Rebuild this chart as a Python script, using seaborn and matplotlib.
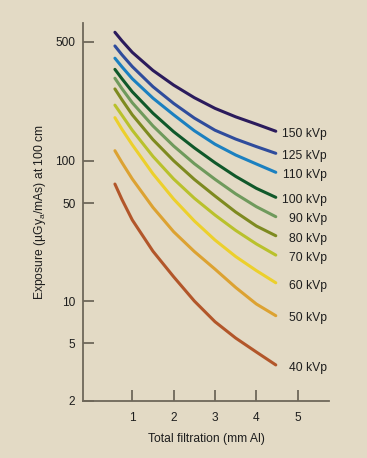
import numpy as np
import pandas as pd
import matplotlib
matplotlib.use("Agg")
import matplotlib.pyplot as plt
import seaborn as sns

# ---- data ----
kvp_labels = ["150 kVp", "125 kVp", "110 kVp", "100 kVp", "90 kVp",
              "80 kVp", "70 kVp", "60 kVp", "50 kVp", "40 kVp"]
filtration = [0.58, 0.75, 1.0, 1.5, 2.0, 2.5, 3.0, 3.5, 4.0, 4.47]   # mm Al
exp_150 = [568, 506, 433, 339, 278, 234.5, 203, 181, 164, 149]
exp_125 = [472, 419, 357, 272, 217, 178, 151, 134, 121, 110.5]
exp_110 = [400, 356, 303, 233, 186, 150, 125, 108, 94.8, 82.8]
exp_100 = [344, 303, 254, 190, 148, 119, 96.8, 77.5, 63.8, 55.1]
exp_90 = [305, 265, 219, 160, 122, 95.3, 73.9, 58.3, 47.3, 40.1]
exp_80 = [264, 228, 186, 133, 100, 73.8, 56.3, 43.3, 34.4, 29.3]
exp_70 = [212, 185, 151, 106, 74.3, 54.3, 41.2, 32.0, 25.6, 21.3]
exp_60 = [179, 153, 124, 80.8, 53.6, 37.4, 27.3, 20.8, 16.5, 13.5]
exp_50 = [114.5, 97.0, 74.3, 46.7, 31.3, 22.6, 16.9, 12.5, 9.52, 7.86]
exp_40 = [68.4, 53.2, 38.0, 22.7, 14.9, 10.0, 7.12, 5.45, 4.35, 3.54]
x_ticks = [1, 2, 3, 4, 5]
y_ticks = [2, 5, 10, 50, 100, 500]

series = [exp_150, exp_125, exp_110, exp_100, exp_90,
          exp_80, exp_70, exp_60, exp_50, exp_40]
colors = ["#2b1b5c", "#2f4c9c", "#1b80c0", "#10582a", "#6f9a5c",
          "#7e8a20", "#b9c12c", "#ecd02c", "#dca232", "#b2562a"]

rows = []
for lab, vals in zip(kvp_labels, series):
    for xv, yv in zip(filtration, vals):
        rows.append({"filtration": xv, "exposure": yv, "kVp": lab})
df = pd.DataFrame(rows)

# ---- style ----
sns.set_theme(style="ticks")
plt.rcParams["font.family"] = ["Liberation Sans", "DejaVu Sans"]
plt.rcParams["mathtext.default"] = "regular"
bg = "#e3dac5"
axcol = "#6e675a"

fig = plt.figure(figsize=(3.67, 4.58), dpi=100, facecolor=bg)
ax = fig.add_axes([83 / 367, 1 - 400.7 / 458, (329 - 83) / 367, (400.7 - 23) / 458])
ax.set_facecolor(bg)

# The printed axis is a hand-spaced log axis: map tick values to their drawn heights
tick_logs = np.log10(np.array(y_ticks, dtype=float))
tick_h = np.array([0.0, 57.4, 99.7, 197.4, 240.0, 359.0])

def fwd(v):
    lv = np.log10(np.clip(np.asarray(v, dtype=float), 1e-6, None))
    out = np.interp(lv, tick_logs, tick_h)
    lo = (tick_h[1] - tick_h[0]) / (tick_logs[1] - tick_logs[0])
    hi = (tick_h[-1] - tick_h[-2]) / (tick_logs[-1] - tick_logs[-2])
    out = np.where(lv < tick_logs[0], tick_h[0] + (lv - tick_logs[0]) * lo, out)
    out = np.where(lv > tick_logs[-1], tick_h[-1] + (lv - tick_logs[-1]) * hi, out)
    return out

def inv(h):
    h = np.asarray(h, dtype=float)
    lv = np.interp(h, tick_h, tick_logs)
    lo = (tick_logs[1] - tick_logs[0]) / (tick_h[1] - tick_h[0])
    hi = (tick_logs[-1] - tick_logs[-2]) / (tick_h[-1] - tick_h[-2])
    lv = np.where(h < tick_h[0], tick_logs[0] + (h - tick_h[0]) * lo, lv)
    lv = np.where(h > tick_h[-1], tick_logs[-1] + (h - tick_h[-1]) * hi, lv)
    return 10 ** lv

ax.set_yscale("function", functions=(fwd, inv))

sns.lineplot(data=df, x="filtration", y="exposure", hue="kVp",
             palette=dict(zip(kvp_labels, colors)), hue_order=kvp_labels,
             linewidth=2.2, legend=False, ax=ax, solid_capstyle="round",
             solid_joinstyle="round")

ax.set_xlim(-0.192, 5.757)
ax.set_ylim(2, float(inv(377.7)))
ax.set_xticks(x_ticks)
ax.set_xticklabels([str(t) for t in x_ticks])
ax.set_yticks(y_ticks)
ax.set_yticklabels([str(t) for t in y_ticks])
ax.yaxis.set_minor_locator(matplotlib.ticker.NullLocator())

for s in ["top", "right"]:
    ax.spines[s].set_visible(False)
for s in ["left", "bottom"]:
    ax.spines[s].set_color(axcol)
    ax.spines[s].set_linewidth(1.3)
ax.tick_params(axis="both", direction="in", length=8, width=1.3, color=axcol,
               labelsize=8.6, labelcolor="#1e1e1e")
ax.tick_params(axis="y", pad=5.5)
ax.tick_params(axis="x", pad=8)

ax.set_xlabel("Total filtration (mm Al)", fontsize=8.7, color="#1e1e1e")
ax.set_ylabel("Exposure (µGy$_{a}$/mAs) at 100 cm", fontsize=8.7, color="#1e1e1e")
ax.xaxis.set_label_coords(0.5, -0.085)
ax.yaxis.set_label_coords(-0.144, 0.5)

label_x = (327 - 90.95) / 41.35
for lab, vals in zip(kvp_labels, series):
    ax.annotate(lab, xy=(label_x, vals[-1]), xytext=(0, -2),
                textcoords="offset points", ha="right", va="center",
                fontsize=8.7, color="#1e1e1e")

fig.savefig("out.png", dpi=100, facecolor=bg)
